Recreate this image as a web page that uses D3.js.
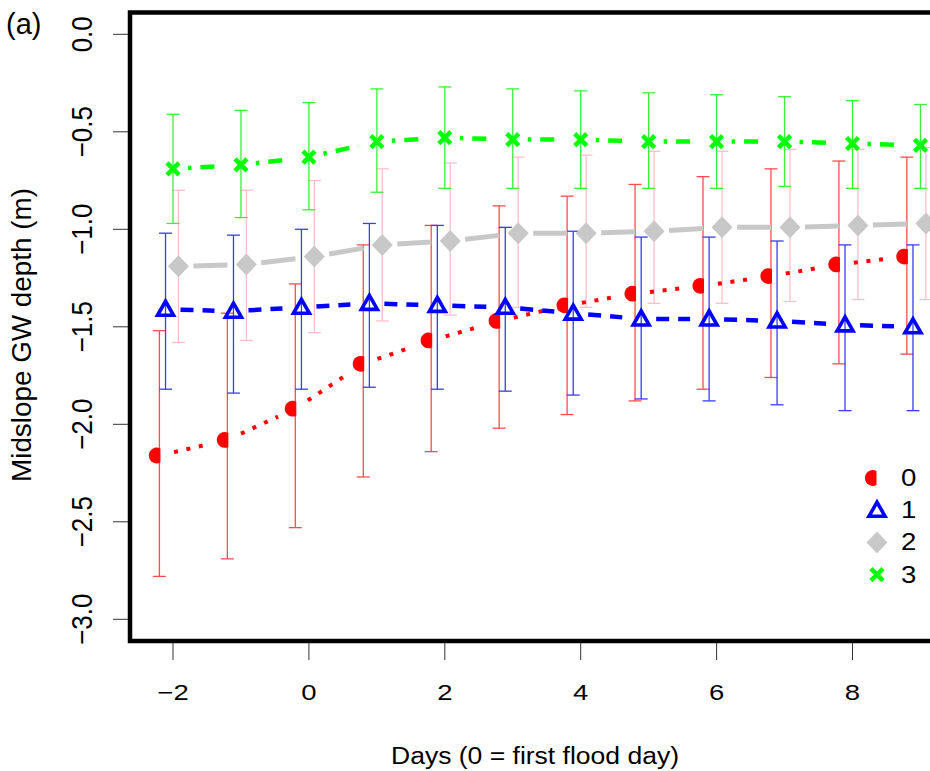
<!DOCTYPE html>
<html>
<head>
<meta charset="utf-8">
<script src="https://cdn.jsdelivr.net/npm/d3@7"></script>
<style>
  body { margin: 0; background: #fff; }
  svg { display: block; font-family: "Liberation Sans", Arial, sans-serif; }
</style>
</head>
<body>
<div id="container"></div>
<script>
// days relative to first flood day
const days = [-2, -1, 0, 1, 2, 3, 4, 5, 6, 7, 8, 9]

// group 0 (red)
const mean0 = [-2.16, -2.08, -1.92, -1.69, -1.57, -1.47, -1.39, -1.33, -1.29, -1.24, -1.18, -1.14]
const hi0   = [-1.52, -1.43, -1.28, -1.08, -0.98, -0.88, -0.83, -0.77, -0.73, -0.69, -0.65, -0.63]
const lo0   = [-2.78, -2.69, -2.53, -2.27, -2.14, -2.02, -1.95, -1.88, -1.82, -1.76, -1.69, -1.64]
// group 1 (blue)
const mean1 = [-1.41, -1.42, -1.40, -1.38, -1.39, -1.40, -1.43, -1.46, -1.46, -1.47, -1.49, -1.50]
const hi1   = [-1.02, -1.03, -1.00, -0.97, -0.98, -0.99, -1.01, -1.04, -1.04, -1.06, -1.08, -1.08]
const lo1   = [-1.82, -1.84, -1.82, -1.81, -1.82, -1.83, -1.85, -1.87, -1.88, -1.90, -1.93, -1.93]
// group 2 (grey)
const mean2 = [-1.19, -1.18, -1.14, -1.08, -1.06, -1.02, -1.02, -1.01, -0.99, -0.99, -0.98, -0.97]
const hi2   = [-0.80, -0.80, -0.75, -0.69, -0.66, -0.63, -0.62, -0.60, -0.60, -0.59, -0.59, -0.58]
const lo2   = [-1.58, -1.57, -1.53, -1.47, -1.44, -1.40, -1.40, -1.38, -1.38, -1.37, -1.36, -1.36]
// group 3 (green)
const mean3 = [-0.69, -0.67, -0.63, -0.55, -0.53, -0.54, -0.54, -0.55, -0.55, -0.55, -0.56, -0.57]
const hi3   = [-0.41, -0.39, -0.35, -0.28, -0.27, -0.28, -0.29, -0.30, -0.31, -0.32, -0.34, -0.36]
const lo3   = [-0.97, -0.94, -0.90, -0.81, -0.79, -0.79, -0.79, -0.79, -0.79, -0.78, -0.79, -0.79]

const groupLabels = ['0', '1', '2', '3']
const xTicks = [-2, 0, 2, 4, 6, 8]
const yTicks = [0, -0.5, -1, -1.5, -2, -2.5, -3]

const width = 930, height = 771

const series = [
  {mean: mean0, hi: hi0, lo: lo0, shift: -0.2,  col: '#ff0000', bar: '#ff4d4d', shape: 'half',     dash: '4,8.7',       lw: 4},
  {mean: mean1, hi: hi1, lo: lo1, shift: -0.11, col: '#0000ff', bar: '#3b3bff', shape: 'triangle', dash: '13,9',        lw: 4.5},
  {mean: mean2, hi: hi2, lo: lo2, shift: 0.08,  col: '#c8c8c8', bar: '#ffc0cb', shape: 'diamond',  dash: null,          lw: 5},
  {mean: mean3, hi: hi3, lo: lo3, shift: 0,     col: '#00ff00', bar: '#3cf03c', shape: 'cross',    dash: '3.5,9,14,9',  lw: 4.5}
]

const svg = d3.select('#container').append('svg')
  .attr('width', width).attr('height', height)

const x = d3.scaleLinear().domain([-2, 8]).range([173, 852.5])
const y = d3.scaleLinear().domain([0, -3]).range([34.3, 619.3])

const box = {left: 130, top: 12.5, bottom: 641}

// error bars
series.forEach(s => {
  const g = svg.append('g').attr('stroke', s.bar).attr('stroke-width', 1.3).attr('fill', 'none')
  days.forEach((d, i) => {
    const cx = x(d + s.shift)
    g.append('line').attr('x1', cx).attr('x2', cx).attr('y1', y(s.hi[i])).attr('y2', y(s.lo[i]))
    g.append('line').attr('x1', cx - 6.5).attr('x2', cx + 6.5).attr('y1', y(s.hi[i])).attr('y2', y(s.hi[i]))
    g.append('line').attr('x1', cx - 6.5).attr('x2', cx + 6.5).attr('y1', y(s.lo[i])).attr('y2', y(s.lo[i]))
  })
})

function marker(g, shape, cx, cy, col) {
  if (shape === 'half') {
    // filled circle with its right side cut flat
    g.append('path')
      .attr('d', `M${cx + 3.5},${cy - 7} A7.9,7.9 0 1 0 ${cx + 3.5},${cy + 7} Z`)
      .attr('fill', col)
  } else if (shape === 'triangle') {
    g.append('path')
      .attr('d', `M${cx},${cy - 8} L${cx + 8},${cy + 6} L${cx - 8},${cy + 6} Z`)
      .attr('fill', 'none').attr('stroke', col).attr('stroke-width', 3.6)
      .attr('stroke-linejoin', 'miter')
  } else if (shape === 'diamond') {
    g.append('path')
      .attr('d', `M${cx},${cy - 11} L${cx + 10.5},${cy} L${cx},${cy + 11} L${cx - 10.5},${cy} Z`)
      .attr('fill', col)
  } else {
    g.append('path')
      .attr('d', `M${cx - 6},${cy - 6} L${cx + 6},${cy + 6} M${cx - 6},${cy + 6} L${cx + 6},${cy - 6}`)
      .attr('stroke', col).attr('stroke-width', 4.5)
  }
}

// lines (type "b": gaps around the points) and markers
series.forEach(s => {
  const g = svg.append('g')
  const pts = days.map((d, i) => [x(d + s.shift), y(s.mean[i])])
  for (let i = 0; i < pts.length - 1; i++) {
    const [x1, y1] = pts[i], [x2, y2] = pts[i + 1]
    const len = Math.hypot(x2 - x1, y2 - y1)
    const ux = (x2 - x1) / len, uy = (y2 - y1) / len
    const a = 15, b = 19
    g.append('line')
      .attr('x1', x1 + ux * a).attr('y1', y1 + uy * a)
      .attr('x2', x2 - ux * b).attr('y2', y2 - uy * b)
      .attr('stroke', s.col).attr('stroke-width', s.lw)
      .attr('stroke-dasharray', s.dash)
  }
  pts.forEach(p => marker(g, s.shape, s.shape === 'half' ? p[0] - 2.5 : p[0], p[1], s.col))
})

// plot box
svg.append('path')
  .attr('d', `M${width + 10},${box.top} L${box.left},${box.top} L${box.left},${box.bottom} L${width + 10},${box.bottom}`)
  .attr('fill', 'none').attr('stroke', '#000').attr('stroke-width', 4.5)

// y axis
const yAxis = svg.append('g')
yTicks.forEach(t => {
  yAxis.append('line').attr('x1', 113).attr('x2', 128).attr('y1', y(t)).attr('y2', y(t))
    .attr('stroke', '#333').attr('stroke-width', 1)
  yAxis.append('text')
    .attr('transform', `translate(92,${y(t)}) scale(1.12,1) rotate(-90)`)
    .attr('text-anchor', 'middle').style('font-size', '26px')
    .text(d3.format('.1f')(t).replace('-', '\u2212').replace('\u22120.0', '0.0'))
})

// x axis
const xAxis = svg.append('g')
xTicks.forEach(t => {
  xAxis.append('line').attr('x1', x(t)).attr('x2', x(t)).attr('y1', 643).attr('y2', 660)
    .attr('stroke', '#333').attr('stroke-width', 1)
  xAxis.append('text')
    .attr('transform', `translate(${x(t)},700) scale(1.25,1)`)
    .attr('text-anchor', 'middle').style('font-size', '22px')
    .text(String(t).replace('-', '\u2212'))
})

// titles
svg.append('text')
  .attr('x', 391).attr('y', 764)
  .attr('textLength', 288).attr('lengthAdjust', 'spacingAndGlyphs')
  .style('font-size', '23px')
  .text('Days (0 = first flood day)')

svg.append('text')
  .attr('transform', 'translate(31,335) rotate(-90)')
  .attr('text-anchor', 'middle')
  .attr('textLength', 294).attr('lengthAdjust', 'spacingAndGlyphs')
  .style('font-size', '27px')
  .text('Midslope GW depth (m)')

svg.append('text')
  .attr('x', 6).attr('y', 34)
  .style('font-size', '29px')
  .text('(a)')

// legend
const legend = svg.append('g')
series.forEach((s, i) => {
  const ly = 478 + i * 32.2
  marker(legend, s.shape, s.shape === 'half' ? 873 : 877, ly, s.col)
  legend.append('text')
    .attr('transform', `translate(901,${ly + 8}) scale(1.2,1)`)
    .style('font-size', '23px')
    .text(groupLabels[i])
})
</script>
</body>
</html>
